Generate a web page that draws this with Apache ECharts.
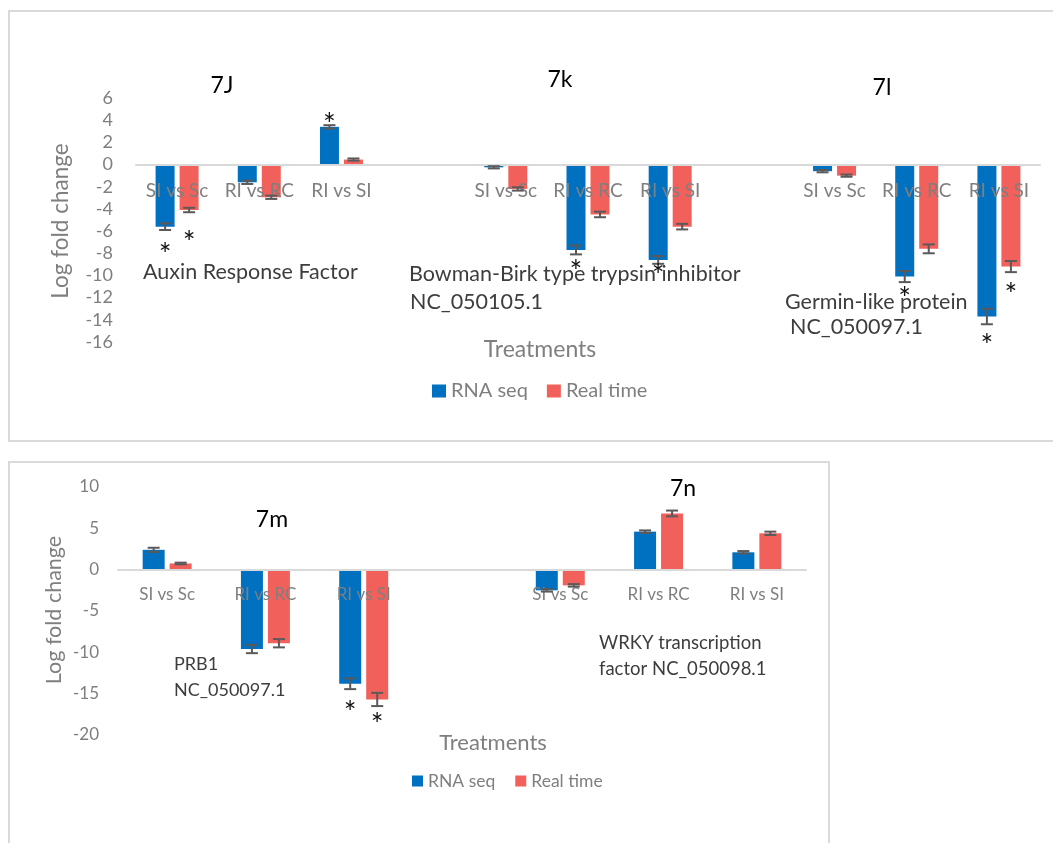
<!DOCTYPE html>
<html>
<head>
<meta charset="utf-8">
<script src="https://cdn.jsdelivr.net/npm/echarts@6/dist/echarts.min.js"></script>
<style>
  html, body { margin: 0; padding: 0; background: #ffffff; }
  #chart { width: 1053px; height: 843px; }
</style>
</head>
<body>
<div id="chart"></div>
<script>
// ---- Upper panel: 7J (Auxin Response Factor), 7k (Bowman-Birk), 7l (Germin-like) ----
const topCategories = ['SI vs Sc', 'RI vs RC', 'RI vs SI', '', 'SI vs Sc', 'RI vs RC', 'RI vs SI', '', 'SI vs Sc', 'RI vs RC', 'RI vs SI'];
const topRnaSeq     = [-5.6, -1.6, 3.4, null, -0.25, -7.7, -8.6, null, -0.6, -10.1, -13.7];
const topRealTime   = [-4.1, -2.95, 0.45, null, -2.2, -4.5, -5.6, null, -1.0, -7.6, -9.2];
const topRnaSeqErr  = [0.3, 0.15, 0.15, null, 0.1, 0.4, 0.35, null, 0.1, 0.5, 0.7];
const topRealTimeErr= [0.2, 0.15, 0.1, null, 0.15, 0.25, 0.25, null, 0.1, 0.4, 0.5];
// where the significance asterisks sit (value units)
const topRnaSeqStar   = [-7.5, null, 4.25, null, null, -9.0, -9.4, null, null, -11.4, -15.7];
const topRealTimeStar = [-6.4, null, null, null, null, null, null, null, null, null, -11.1];
const topTicks = { min: -16, max: 6, interval: 2 };

// ---- Lower panel: 7m (PRB1), 7n (WRKY transcription factor) ----
const botCategories = ['SI vs Sc', 'RI vs RC', 'RI vs SI', '', 'SI vs Sc', 'RI vs RC', 'RI vs SI'];
const botRnaSeq     = [2.4, -9.6, -13.8, null, -2.5, 4.6, 2.1];
const botRealTime   = [0.75, -8.9, -15.7, null, -1.9, 6.8, 4.4];
const botRnaSeqErr  = [0.25, 0.5, 0.65, null, 0.15, 0.15, 0.15];
const botRealTimeErr= [0.1, 0.5, 0.8, null, 0.15, 0.35, 0.2];
const botRnaSeqStar   = [null, null, -16.4, null, null, null, null];
const botRealTimeStar = [null, null, -17.9, null, null, null, null];
const botTicks = { min: -20, max: 10, interval: 5 };

const seriesNames = ['RNA seq', 'Real time'];

const BLUE = '#0070C0';
const RED = '#F2605B';
const AXIS_GREY = '#7f7f7f';
const NOTE_GREY = '#3d3d3d';
const FONT = 'Lato, "Open Sans", sans-serif';

// plot areas and bar geometry per panel (px)
const TOP_GRID = { left: 136, right: 13, top: 98, height: 244 };
const BOT_GRID = { left: 118, width: 688, top: 487, height: 248 };
const TOP_BAR = { width: 19, gap: 5 };
const BOT_BAR = { width: 22, gap: 5 };

function pairs(values, extra) {
  const out = [];
  values.forEach((v, i) => { if (v != null) out.push([i, v, extra ? extra[i] : 0]); });
  return out;
}

function barSeries(name, axis, values, color, bar) {
  return {
    name, type: 'bar', xAxisIndex: axis, yAxisIndex: axis,
    data: values, barWidth: bar.width, barGap: (bar.gap / bar.width * 100).toFixed(1) + '%',
    itemStyle: { color }, z: 2
  };
}

function errorSeries(axis, values, errs, side, bar) {
  const off = side * (bar.width + bar.gap) / 2;
  return {
    type: 'custom', xAxisIndex: axis, yAxisIndex: axis, z: 4, silent: true,
    encode: { x: 0, y: 1 },
    renderItem(params, api) {
      const i = api.value(0), v = api.value(1), e = api.value(2);
      const x = api.coord([i, v])[0] + off;
      const yA = api.coord([i, v + e])[1];
      const yB = api.coord([i, v - e])[1];
      const cap = 6;
      const st = { stroke: '#5a5a5a', lineWidth: 2 };
      return {
        type: 'group',
        children: [
          { type: 'line', shape: { x1: x, y1: yA, x2: x, y2: yB }, style: st },
          { type: 'line', shape: { x1: x - cap, y1: yA, x2: x + cap, y2: yA }, style: st },
          { type: 'line', shape: { x1: x - cap, y1: yB, x2: x + cap, y2: yB }, style: st }
        ]
      };
    },
    data: pairs(values, errs)
  };
}

function starSeries(axis, stars, side, bar) {
  const off = side * (bar.width + bar.gap) / 2;
  return {
    type: 'custom', xAxisIndex: axis, yAxisIndex: axis, z: 5, silent: true,
    encode: { x: 0, y: 1 },
    renderItem(params, api) {
      const c = api.coord([api.value(0), api.value(1)]);
      return {
        type: 'text', x: c[0] + off, y: c[1] + 8,
        style: { text: '*', fontSize: 30, fontFamily: FONT, fill: '#111', align: 'center', verticalAlign: 'middle' }
      };
    },
    data: pairs(stars)
  };
}

// category axis drawn along the zero line of the value axis, labels over the bars
function xAxis(idx, cats, ticks, grid, fontSize, margin) {
  const zeroFromBottom = grid.height * (0 - ticks.min) / (ticks.max - ticks.min);
  return {
    type: 'category', gridIndex: idx, data: cats, position: 'bottom',
    offset: -zeroFromBottom, z: 3,
    axisLine: { onZero: false, lineStyle: { color: '#d9d9d9', width: 2 } },
    axisTick: { show: false },
    axisLabel: { interval: 0, color: AXIS_GREY, fontSize, fontFamily: FONT, margin },
    splitLine: { show: false }
  };
}

function yAxis(idx, ticks, fontSize, margin) {
  return {
    type: 'value', gridIndex: idx, min: ticks.min, max: ticks.max, interval: ticks.interval,
    axisLine: { show: false }, axisTick: { show: false }, splitLine: { show: false },
    axisLabel: { color: AXIS_GREY, fontSize, fontFamily: FONT, margin }
  };
}

function note(text, x, y, size, color, align, rotation) {
  return {
    type: 'text', x, y, rotation: rotation || 0, silent: true,
    style: { text, fontSize: size, fontFamily: FONT, fill: color, align: align || 'left', verticalAlign: 'middle' }
  };
}

const chart = echarts.init(document.getElementById('chart'), null, { renderer: 'canvas' });

chart.setOption({
  animation: false,
  backgroundColor: '#ffffff',
  grid: [TOP_GRID, BOT_GRID],
  xAxis: [xAxis(0, topCategories, topTicks, TOP_GRID, 19, 17), xAxis(1, botCategories, botTicks, BOT_GRID, 17, 16)],
  yAxis: [yAxis(0, topTicks, 18, 23), yAxis(1, botTicks, 17, 19)],
  legend: [
    {
      data: seriesNames, left: 427, top: 376, icon: 'rect', itemWidth: 14, itemHeight: 13, itemGap: 19,
      selectedMode: false, textStyle: { color: AXIS_GREY, fontSize: 20, fontFamily: FONT }
    },
    {
      data: seriesNames, left: 407, top: 767, icon: 'rect', itemWidth: 11, itemHeight: 11, itemGap: 20,
      selectedMode: false, textStyle: { color: AXIS_GREY, fontSize: 17.5, fontFamily: FONT }
    }
  ],
  series: [
    barSeries(seriesNames[0], 0, topRnaSeq, BLUE, TOP_BAR),
    barSeries(seriesNames[1], 0, topRealTime, RED, TOP_BAR),
    errorSeries(0, topRnaSeq, topRnaSeqErr, -1, TOP_BAR),
    errorSeries(0, topRealTime, topRealTimeErr, 1, TOP_BAR),
    starSeries(0, topRnaSeqStar, -1, TOP_BAR),
    starSeries(0, topRealTimeStar, 1, TOP_BAR),

    barSeries(seriesNames[0], 1, botRnaSeq, BLUE, BOT_BAR),
    barSeries(seriesNames[1], 1, botRealTime, RED, BOT_BAR),
    errorSeries(1, botRnaSeq, botRnaSeqErr, -1, BOT_BAR),
    errorSeries(1, botRealTime, botRealTimeErr, 1, BOT_BAR),
    starSeries(1, botRnaSeqStar, -1, BOT_BAR),
    starSeries(1, botRealTimeStar, 1, BOT_BAR)
  ],
  graphic: [
    // panel frames
    { type: 'rect', silent: true, z: -10, shape: { x: 9, y: 11, width: 1060, height: 430 },
      style: { fill: 'none', stroke: '#d9d9d9', lineWidth: 2 } },
    { type: 'rect', silent: true, z: -10, shape: { x: 9, y: 462, width: 820, height: 400 },
      style: { fill: 'none', stroke: '#d9d9d9', lineWidth: 2 } },

    // axis titles
    note('Log fold change', 61, 221, 22.5, AXIS_GREY, 'center', Math.PI / 2),
    note('Treatments', 540, 350, 23, AXIS_GREY, 'center'),
    note('Log fold change', 54, 610, 21.5, AXIS_GREY, 'center', Math.PI / 2),
    note('Treatments', 493, 743, 22, AXIS_GREY, 'center'),

    // panel labels
    note('7J', 222, 86, 23, '#000', 'center'),
    note('7k', 560, 80, 23, '#000', 'center'),
    note('7l', 882, 88, 23, '#000', 'center'),
    note('7m', 272, 520, 23, '#000', 'center'),
    note('7n', 683, 489, 23, '#000', 'center'),

    // gene names
    note('Auxin Response Factor', 143, 272, 21.5, NOTE_GREY),
    note('Bowman-Birk type trypsin inhibitor', 409, 274, 21.5, NOTE_GREY),
    note('NC_050105.1', 410, 302, 21.5, NOTE_GREY),
    note('Germin-like protein', 785, 302, 21.5, NOTE_GREY),
    note('NC_050097.1', 790, 327, 21.5, NOTE_GREY),
    note('PRB1', 174, 664, 18, NOTE_GREY),
    note('NC_050097.1', 174, 690, 18, NOTE_GREY),
    note('WRKY transcription', 599, 643, 18.5, NOTE_GREY),
    note('factor NC_050098.1', 599, 669, 18.5, NOTE_GREY)
  ]
});
</script>
</body>
</html>
